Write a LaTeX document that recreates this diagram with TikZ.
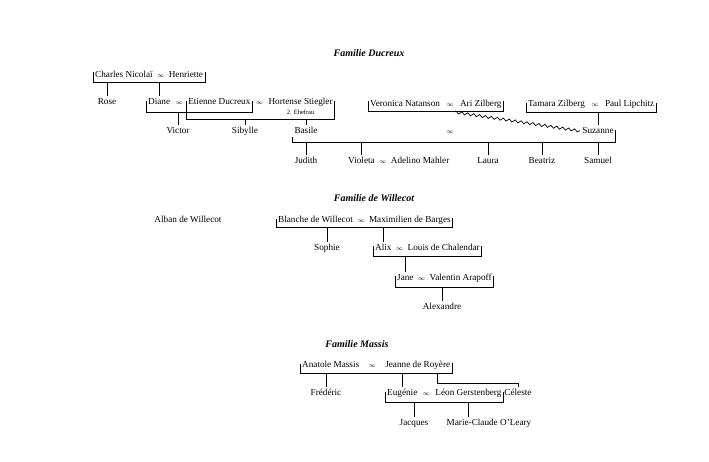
\documentclass[tikz,border=0pt]{standalone}
\usepackage{fontspec}
\setmainfont{Liberation Serif}
\usetikzlibrary{positioning,decorations.pathmorphing}

\tikzset{
  person/.style={inner xsep=2pt, inner ysep=1.5pt, text height=1.6ex, text depth=.3ex, font=\fontsize{9.2}{10}\selectfont},
  marr/.style={person, inner xsep=2pt, font=\fontsize{6.5}{8}\selectfont},
  famtitle/.style={font=\fontsize{10}{12}\selectfont\bfseries\itshape},
  note/.style={inner sep=0pt, font=\fontsize{6.5}{7}\selectfont},
  link/.style={line width=1pt},
  wave/.style={line width=.7pt, decorate, decoration={snake, amplitude=1.3pt, segment length=6pt}}
}

\begin{document}
\begin{tikzpicture}[x=1pt, y=-1pt]
  \useasboundingbox (0,0) rectangle (709,462);

  % Familie Ducreux
  \node[famtitle] (tduc) at (369,53) {Familie Ducreux};

  \node[person, anchor=west] (charles) at (93,75) {Charles Nicolaï};
  \node[marr, right=0pt of charles] (m1) {$\infty$};
  \node[person, right=0pt of m1] (henriette) {Henriette};

  \node[person] (rose) at (107,102) {Rose};
  \node[person, anchor=west] (diane) at (146,102) {Diane};
  \node[marr, right=1pt of diane] (m2) {$\infty$};
  \node[person, right=1pt of m2] (etienne) {Etienne Ducreux};
  \node[marr, right=1pt of etienne] (m3) {$\infty$};
  \node[person, right=1pt of m3] (hortense) {Hortense Stiegler};
  \node[note, below=2pt of hortense] (ehefrau) {2. Ehefrau};

  \node[person, anchor=west] (veronica) at (368,104) {Veronica Natanson};
  \node[marr, right=2pt of veronica] (m5) {$\infty$};
  \node[person, right=2pt of m5] (ari) {Ari Zilberg};
  \node[person, anchor=west] (tamara) at (526,104) {Tamara Zilberg};
  \node[marr, right=2pt of tamara] (m6) {$\infty$};
  \node[person, right=2pt of m6] (paul) {Paul Lipchitz};

  \node[person] (victor) at (178,131) {Victor};
  \node[person] (sibylle) at (245,131) {Sibylle};
  \node[person] (basile) at (306,131) {Basile};
  \node[marr] (m4) at (450,131) {$\infty$};
  \node[person] (suzanne) at (598,131) {Suzanne};

  \node[person] (judith) at (306,161) {Judith};
  \node[person, anchor=west] (violeta) at (346,161) {Violeta};
  \node[marr, right=0pt of violeta] (m7) {$\infty$};
  \node[person, right=0pt of m7] (adelino) {Adelino Mahler};
  \node[person] (laura) at (488,161) {Laura};
  \node[person] (beatriz) at (542,161) {Beatriz};
  \node[person] (samuel) at (598,161) {Samuel};

  \draw[link] ([yshift=3pt]charles.west) -- ++(0,11) coordinate (cn) -| ([yshift=3pt]henriette.east);
  \draw[link] (rose.north |- cn) -- (rose.north);
  \draw[link] (diane.north |- cn) -- (diane.north);

  \draw[link] ([yshift=1pt]diane.west) -- ++(0,12) coordinate (de) -| ([yshift=1pt]etienne.east);
  \draw[link] ([yshift=1pt]etienne.west) -- ++(0,19) coordinate (eh) -| ([yshift=1pt]hortense.east);
  \draw[link] (victor.north |- de) -- (victor.north);
  \draw[link] (sibylle.north |- eh) -- (sibylle.north);
  \draw[link] (basile.north |- eh) -- (basile.north);

  \draw[link] ([yshift=3pt]veronica.west) -- ++(0,11) coordinate (va) -| ([yshift=3pt]ari.east);
  \draw[link] ([yshift=1pt]tamara.west) -- ++(0,10) coordinate (tp) -| ([yshift=1pt]paul.east);
  \draw[link] (suzanne.north |- tp) -- (suzanne.north);
  \draw[wave] ([xshift=-4pt]ari.west |- va) -- (suzanne.west);

  \draw[link] (basile.south west) -- ++(0,5) coordinate (bs) -| ([yshift=1pt]suzanne.east);
  \draw[link] (judith.north |- bs) -- (judith.north);
  \draw[link] (violeta.north |- bs) -- (violeta.north);
  \draw[link] (laura.north |- bs) -- (laura.north);
  \draw[link] (beatriz.north |- bs) -- (beatriz.north);
  \draw[link] (samuel.north |- bs) -- (samuel.north);

  % Familie de Willecot
  \node[famtitle] (twil) at (374,198) {Familie de Willecot};

  \node[person] (alban) at (188,220) {Alban de Willecot};
  \node[person, anchor=west] (blanche) at (276,220) {Blanche de Willecot};
  \node[marr, right=0pt of blanche] (m8) {$\infty$};
  \node[person, right=0pt of m8] (maximilien) {Maximilien de Barges};
  \node[person] (sophie) at (327,248) {Sophie};
  \node[person, anchor=west] (alix) at (373,248) {Alix};
  \node[marr, right=0pt of alix] (m9) {$\infty$};
  \node[person, right=0pt of m9] (louis) {Louis de Chalendar};
  \node[person, anchor=west] (jane) at (395,278) {Jane};
  \node[marr, right=0pt of jane] (m10) {$\infty$};
  \node[person, right=0pt of m10] (valentin) {Valentin Arapoff};
  \node[person] (alexandre) at (442,307) {Alexandre};

  \draw[link] ([yshift=1pt]blanche.west) -- ++(0,9) coordinate (bm) -| ([yshift=2pt]maximilien.east);
  \draw[link] (sophie.north |- bm) -- (sophie.north);
  \draw[link] (alix.north |- bm) -- (alix.north);
  \draw[link] ([yshift=2pt]alix.west) -- ++(0,11) coordinate (al) -| ([yshift=2pt]louis.east);
  \draw[link] (jane.north |- al) -- (jane.north);
  \draw[link] ([yshift=2pt]jane.west) -- ++(0,11) coordinate (jv) -| ([yshift=2pt]valentin.east);
  \draw[link] (alexandre.north |- jv) -- (alexandre.north);

  % Familie Massis
  \node[famtitle] (tmas) at (357,344) {Familie Massis};

  \node[person, anchor=west] (anatole) at (300,365) {Anatole Massis};
  \node[marr, right=5pt of anatole] (m11) {$\infty$};
  \node[person, right=5pt of m11] (jeanne) {Jeanne de Royère};
  \node[person] (frederic) at (326,393) {Frédéric};
  \node[person, anchor=west] (eugenie) at (385,393) {Eugénie};
  \node[marr, right=1pt of eugenie] (m12) {$\infty$};
  \node[person, right=1pt of m12] (leon) {Léon Gerstenberg};
  \node[person] (celeste) at (518,393) {Céleste};
  \node[person] (jacques) at (414,423) {Jacques};
  \node[person] (marie) at (489,423) {Marie-Claude O’Leary};

  \draw[link] ([yshift=1pt]anatole.west) -- ++(0,9) coordinate (aj) -| ([yshift=2pt]jeanne.east);
  \draw[link] (frederic.north |- aj) -- (frederic.north);
  \draw[link] (eugenie.north |- aj) -- (eugenie.north);
  \draw[link] ([xshift=-15pt]jeanne.east |- aj) -- ++(0,10) -| (celeste.north);
  \draw[link] ([yshift=1pt]eugenie.west) -- ++(0,10) coordinate (el) -| ([yshift=1pt]leon.east);
  \draw[link] (jacques.north |- el) -- (jacques.north);
  \draw[link] (leon.center |- el) -- (leon.center |- marie.north);
\end{tikzpicture}
\end{document}
